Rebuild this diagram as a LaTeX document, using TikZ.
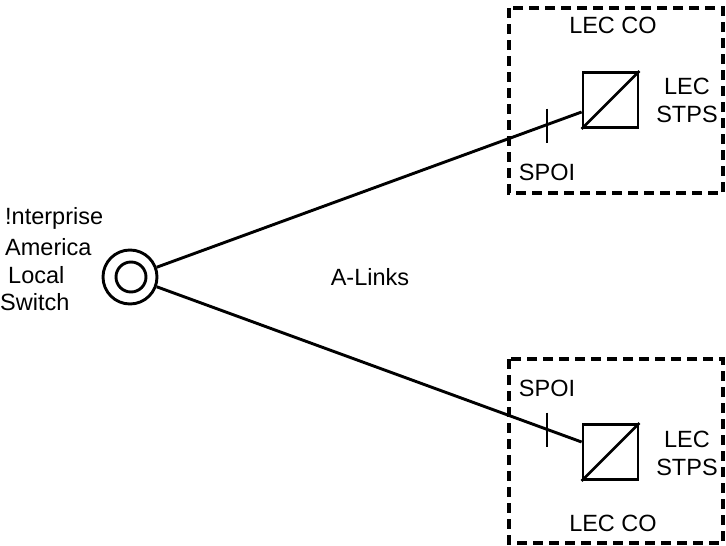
\documentclass[tikz,border=0pt]{standalone}
\usepackage{fontspec}
\setmainfont{Liberation Sans}
\usetikzlibrary{calc}
\begin{document}
\begin{tikzpicture}[x=1pt,y=-1pt,
  txt/.style={inner sep=0pt,font=\fontsize{23.5}{28}\selectfont},
  link/.style={line width=2.9pt},
  cobox/.style={line width=3.2pt,dash pattern=on 10pt off 6pt},
  stp/.style={draw,line width=2.8pt,minimum size=55pt,inner sep=0pt},
  tickmark/.style={line width=2.6pt}]
\useasboundingbox (0,0) rectangle (726,546);
% CO boxes
\draw[cobox] (509,8) rectangle (723,193);
\draw[cobox] (509,359) rectangle (723,543);
% switch
\node[draw,circle,line width=2.9pt,minimum size=54pt,inner sep=0pt] (sw) at (130,277) {};
\node[draw,circle,line width=2.9pt,minimum size=30pt,inner sep=0pt] (swin) at (131,277) {};
% STPs
\node[stp] (s1) at (610.5,100) {};
\node[stp] (s2) at (610.5,452) {};
\draw[line width=2.6pt] (s1.south west) -- (s1.north east);
\draw[line width=2.6pt] (s2.south west) -- (s2.north east);
\coordinate (p1) at ($(s1.west)+(0,12)$);
\coordinate (p2) at ($(s2.west)+(0,-10)$);
\draw[link] (sw) -- (p1);
\draw[link] (sw) -- (p2);
% SPOI ticks
\coordinate (t1) at (547,125.5);
\coordinate (t2) at (547,429.5);
\draw[tickmark] ($(t1)+(0,-17)$) -- ($(t1)+(0,17)$);
\draw[tickmark] ($(t2)+(0,-17)$) -- ($(t2)+(0,17)$);
% labels
\node[txt] (co1) at (613,25) {LEC CO};
\node[txt,align=center] (stps1) at (687,100) {LEC\\STPS};
\node[txt] (spoi1) at (547,172) {SPOI};
\node[txt] (spoi2) at (547,388) {SPOI};
\node[txt,align=center] (stps2) at (687,453) {LEC\\STPS};
\node[txt] (co2) at (613,523) {LEC CO};
\node[txt] (alinks) at (370,277) {A-Links};
\node[txt,anchor=west] (l1) at (5,218) {!nterprise};
\node[txt,anchor=west] (l2) at (5,247) {America};
\node[txt,anchor=west] (l3) at (8,275) {Local};
\node[txt,anchor=west] (l4) at (0,302) {Switch};
\end{tikzpicture}
\end{document}
